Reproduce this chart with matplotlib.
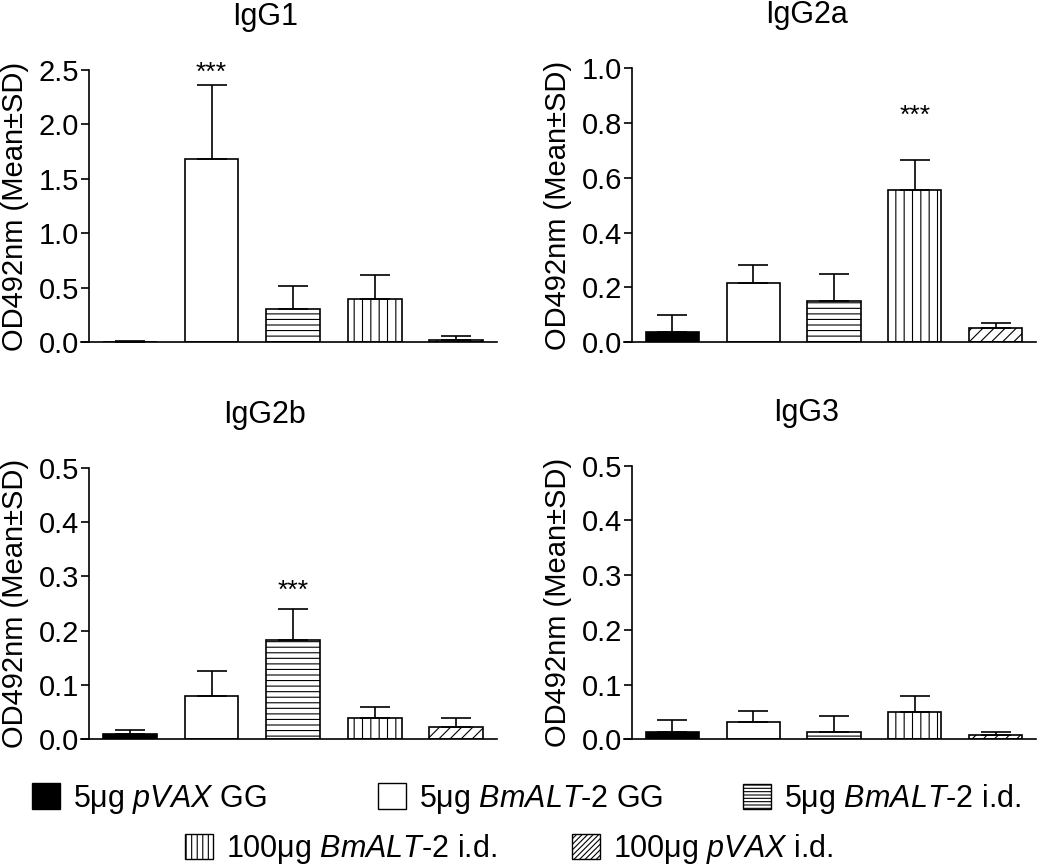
import matplotlib
matplotlib.use("Agg")
import matplotlib.pyplot as plt
from matplotlib.patches import Patch
import numpy as np

plt.rcParams['font.family'] = ['Liberation Sans', 'DejaVu Sans']
plt.rcParams['mathtext.fontset'] = 'custom'
plt.rcParams['mathtext.rm'] = 'Liberation Sans'
plt.rcParams['mathtext.it'] = 'Liberation Sans:italic'
plt.rcParams['hatch.linewidth'] = 0.8
plt.rcParams['hatch.color'] = 'black'

# ---- data ----
groups = ["5μg pVAX GG", "5μg BmALT-2 GG", "5μg BmALT-2 i.d.",
          "100μg BmALT-2 i.d.", "100μg pVAX i.d."]
legend_labels = ["5μg $\\mathit{pVAX}$ GG",
                 "5μg $\\mathit{BmALT}$-$\\mathit{2}$ GG",
                 "5μg $\\mathit{BmALT}$-$\\mathit{2}$ i.d.",
                 "100μg $\\mathit{BmALT}$-$\\mathit{2}$ i.d.",
                 "100μg $\\mathit{pVAX}$ i.d."]
titles = ["IgG1", "IgG2a", "IgG2b", "IgG3"]

igg1_mean = [0.004, 1.68, 0.306, 0.392, 0.022]
igg1_sd = [0.002, 0.68, 0.21, 0.22, 0.036]
igg2a_mean = [0.038, 0.214, 0.149, 0.555, 0.052]
igg2a_sd = [0.061, 0.067, 0.101, 0.111, 0.018]
igg2b_mean = [0.009, 0.079, 0.183, 0.040, 0.023]
igg2b_sd = [0.009, 0.047, 0.056, 0.020, 0.016]
igg3_mean = [0.014, 0.031, 0.013, 0.049, 0.007]
igg3_sd = [0.021, 0.021, 0.029, 0.031, 0.007]

y_max = [2.5, 1.0, 0.5, 0.5]
y_step = [0.5, 0.2, 0.1, 0.1]
# significance markers: (bar index, baseline y) per panel, None if absent
sig_bar = [1, 3, 2, None]
sig_y = [2.41, 0.80, 0.261, None]

means = [igg1_mean, igg2a_mean, igg2b_mean, igg3_mean]
sds = [igg1_sd, igg2a_sd, igg2b_sd, igg3_sd]

# ---- styles ----
face = ['black', 'white', 'white', 'white', 'white']
bar_hatch = [None, None, '---', '||', '///']
leg_hatch = [None, None, '-----', '|||', '//////']

W, H = 1050, 866
fig = plt.figure(figsize=(W / 100, H / 100), dpi=100)

# axes rectangles in pixels: (left, top, right, bottom)
rects = [(81, 70, 497, 342), (624, 68.3, 1036, 342),
         (81, 467.7, 497, 739.3), (624, 465.7, 1036, 739.3)]

for i, (l, t, r, b) in enumerate(rects):
    ax = fig.add_axes([l / W, 1 - b / H, (r - l) / W, (b - t) / H])
    x = np.arange(len(groups))
    for j in range(len(groups)):
        ax.bar(x[j], means[i][j], width=0.66, color=face[j], edgecolor='black',
               linewidth=1.2, hatch=bar_hatch[j], zorder=2)
    ax.errorbar(x, means[i], yerr=[np.zeros(len(x)), sds[i]], fmt='none',
                ecolor='black', elinewidth=1.2, capsize=10.5, capthick=1.2, zorder=3)
    ax.set_xlim(-0.6, 4.5)
    ax.set_ylim(0, y_max[i])
    ax.set_yticks(np.round(np.arange(0, y_max[i] + 1e-9, y_step[i]), 2))
    ax.yaxis.set_major_formatter(plt.FormatStrFormatter('%.1f'))
    ax.set_xticks([])
    for s in ['top', 'right']:
        ax.spines[s].set_visible(False)
    ax.spines['left'].set_position(('axes', 8 / (r - l)))
    ax.spines['left'].set_linewidth(1.2)
    ax.spines['bottom'].set_linewidth(1.2)
    ax.tick_params(axis='y', length=6, width=1.2, pad=1, labelsize=21)
    ax.set_ylabel("OD492nm (Mean±SD)", fontsize=21)
    ax.yaxis.set_label_coords(-0.125, 0.5)
    ax.set_title(titles[i], fontsize=22, x=0.442, y=1 + 45 / (b - t), pad=0)
    if sig_bar[i] is not None:
        ax.text(x[sig_bar[i]], sig_y[i], "***", ha='center', va='baseline',
                fontsize=19)
    ax.patch.set_visible(False)

# ---- legend: one entry per anchor ----
leg_pos = [(32, 799), (378, 799), (743, 799), (185, 849), (572, 849)]
fs = 22
for j in range(len(groups)):
    h = Patch(facecolor=face[j], edgecolor='black', linewidth=1.0, hatch=leg_hatch[j])
    fig.legend(handles=[h], labels=[legend_labels[j]], loc='center left',
               bbox_to_anchor=(leg_pos[j][0] / W, 1 - leg_pos[j][1] / H),
               frameon=False, borderpad=0, borderaxespad=0, fontsize=fs,
               handlelength=28 / (fs * 100 / 72), handleheight=28 / (fs * 100 / 72),
               handletextpad=13 / (fs * 100 / 72))

fig.savefig("out.png", dpi=100)
